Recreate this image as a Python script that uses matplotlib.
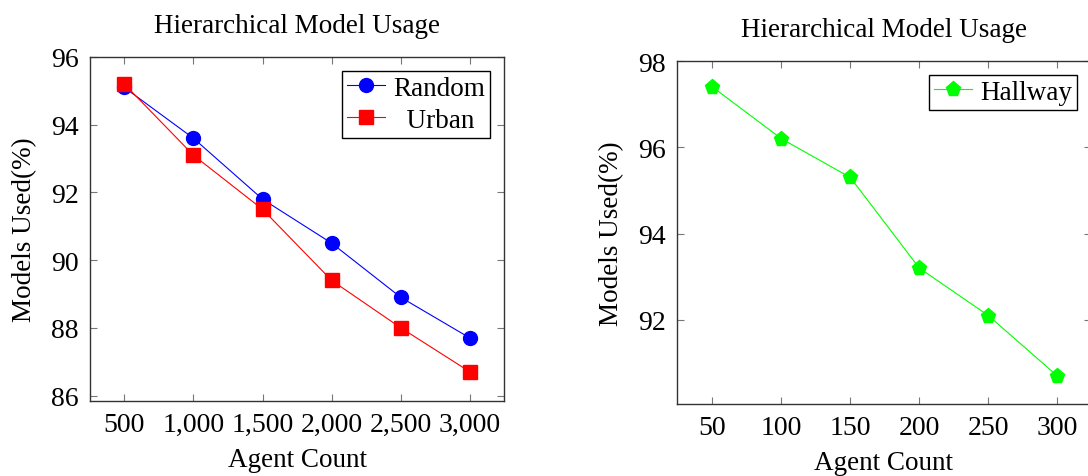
import matplotlib
matplotlib.use('Agg')
from matplotlib import pyplot as plt
from matplotlib.ticker import FuncFormatter

plt.rcParams['font.family'] = ['Liberation Serif', 'DejaVu Serif']

# left chart data
agents_big = [500, 1000, 1500, 2000, 2500, 3000]
random_used = [95.1, 93.6, 91.8, 90.5, 88.9, 87.7]
urban_used = [95.2, 93.1, 91.5, 89.4, 88.0, 86.7]

# right chart data
agents_small = [50, 100, 150, 200, 250, 300]
hallway_used = [97.4, 96.2, 95.3, 93.2, 92.1, 90.7]

fig = plt.figure(figsize=(10.88, 4.77), dpi=100)
ax1 = fig.add_axes([90/1088, 75/477, 414/1088, 344/477])
ax2 = fig.add_axes([677/1088, 72/477, 414/1088, 343/477])

ax1.plot(agents_big, random_used, '-o', color='blue', lw=0.8, ms=10, label='Random')
ax1.plot(agents_big, urban_used, '-s', color='red', lw=0.8, ms=9.5, label='  Urban')
ax2.plot(agents_small, hallway_used, '-p', color='#00ff00', lw=0.8, ms=11, label='Hallway')

ax1.set_xlim(252, 3246)
ax1.set_ylim(85.84, 96.0)
ax1.set_xticks(agents_big)
ax1.set_yticks([86, 88, 90, 92, 94, 96])
ax1.xaxis.set_major_formatter(FuncFormatter(lambda v, p: f'{int(v):,}'))

ax2.set_xlim(24.4, 324.4)
ax2.set_ylim(90.05, 98.0)
ax2.set_xticks(agents_small)
ax2.set_yticks([92, 94, 96, 98])

for ax in (ax1, ax2):
    ax.set_title('Hierarchical Model Usage', fontsize=19.5, pad=18)
    ax.set_xlabel('Agent Count', fontsize=19.5, labelpad=7)
    ax.set_ylabel('Models Used(%)', fontsize=19.5, labelpad=10)
    ax.tick_params(direction='in', top=True, right=True, length=5, width=0.8,
                   color='#777777', labelsize=20, pad=8)
    for s in ax.spines.values():
        s.set_color('#333333')
        s.set_linewidth(1.0)

leg1 = ax1.legend(loc='upper right', fontsize=19.5, fancybox=False, edgecolor='black',
                  framealpha=1, handlelength=1.4, handletextpad=0.3, borderpad=0.2,
                  labelspacing=0.25, borderaxespad=0.5)
leg2 = ax2.legend(loc='upper right', fontsize=19.5, fancybox=False, edgecolor='black',
                  framealpha=1, handlelength=1.4, handletextpad=0.3, borderpad=0.2,
                  borderaxespad=0.5)
for leg in (leg1, leg2):
    leg.get_frame().set_linewidth(1.0)

fig.savefig('out.png', dpi=100)
